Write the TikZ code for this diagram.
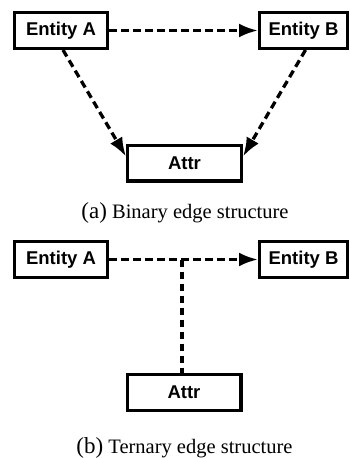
\documentclass[tikz,border=0pt]{standalone}
\usepackage{fontspec}
\setmainfont{Liberation Serif}
\newfontfamily\boxfont{Liberation Sans}
\usetikzlibrary{arrows.meta}
\tikzset{
  ent/.style={draw=black, line width=3.3pt, fill=white, inner sep=0pt,
    minimum height=35.7pt, font=\boxfont\bfseries\fontsize{18.5}{20}\selectfont},
  conn/.style={line width=3.3pt, dash pattern=on 7.5pt off 4.5pt,
    -{Latex[length=19pt,width=14pt]}},
  plainconn/.style={line width=3.3pt, dash pattern=on 7.5pt off 4.5pt},
  captext/.style={font=\fontsize{20.5}{24}\selectfont, inner sep=0pt}
}
\newcommand{\sublabel}[1]{{\fontsize{23}{26}\selectfont(#1)}}
\begin{document}
\begin{tikzpicture}[x=1pt,y=1pt]
\useasboundingbox (0,0) rectangle (350,-458);
% panel (a)
\node[ent, minimum width=92.7pt] (A) at (61,-30.5) {Entity A};
\node[ent, minimum width=87.7pt] (B) at (303.5,-30.5) {Entity B};
\node[ent, minimum width=113.7pt] (C) at (184.5,-163) {Attr};
\draw[conn] (A) -- (B);
\draw[conn] ([xshift=2pt]A.south) -- ([yshift=-13pt]C.north west);
\draw[conn] ([xshift=2pt]B.south) -- ([yshift=-13pt]C.north east);
\node[captext] (capa) at (185,-213) {\sublabel{a} Binary edge structure};
% panel (b)
\node[ent, minimum width=92.7pt] (A2) at (61,-259.5) {Entity A};
\node[ent, minimum width=87.7pt] (B2) at (303.5,-259.5) {Entity B};
\node[ent, minimum width=113.7pt] (C2) at (184,-392.5) {Attr};
\draw[conn] (A2) -- (B2);
\coordinate (J) at (182,-259.5);
\draw[plainconn] (J) -- (J |- C2.north);
\node[captext] (capb) at (184.5,-448) {\sublabel{b} Ternary edge structure};
\end{tikzpicture}
\end{document}
